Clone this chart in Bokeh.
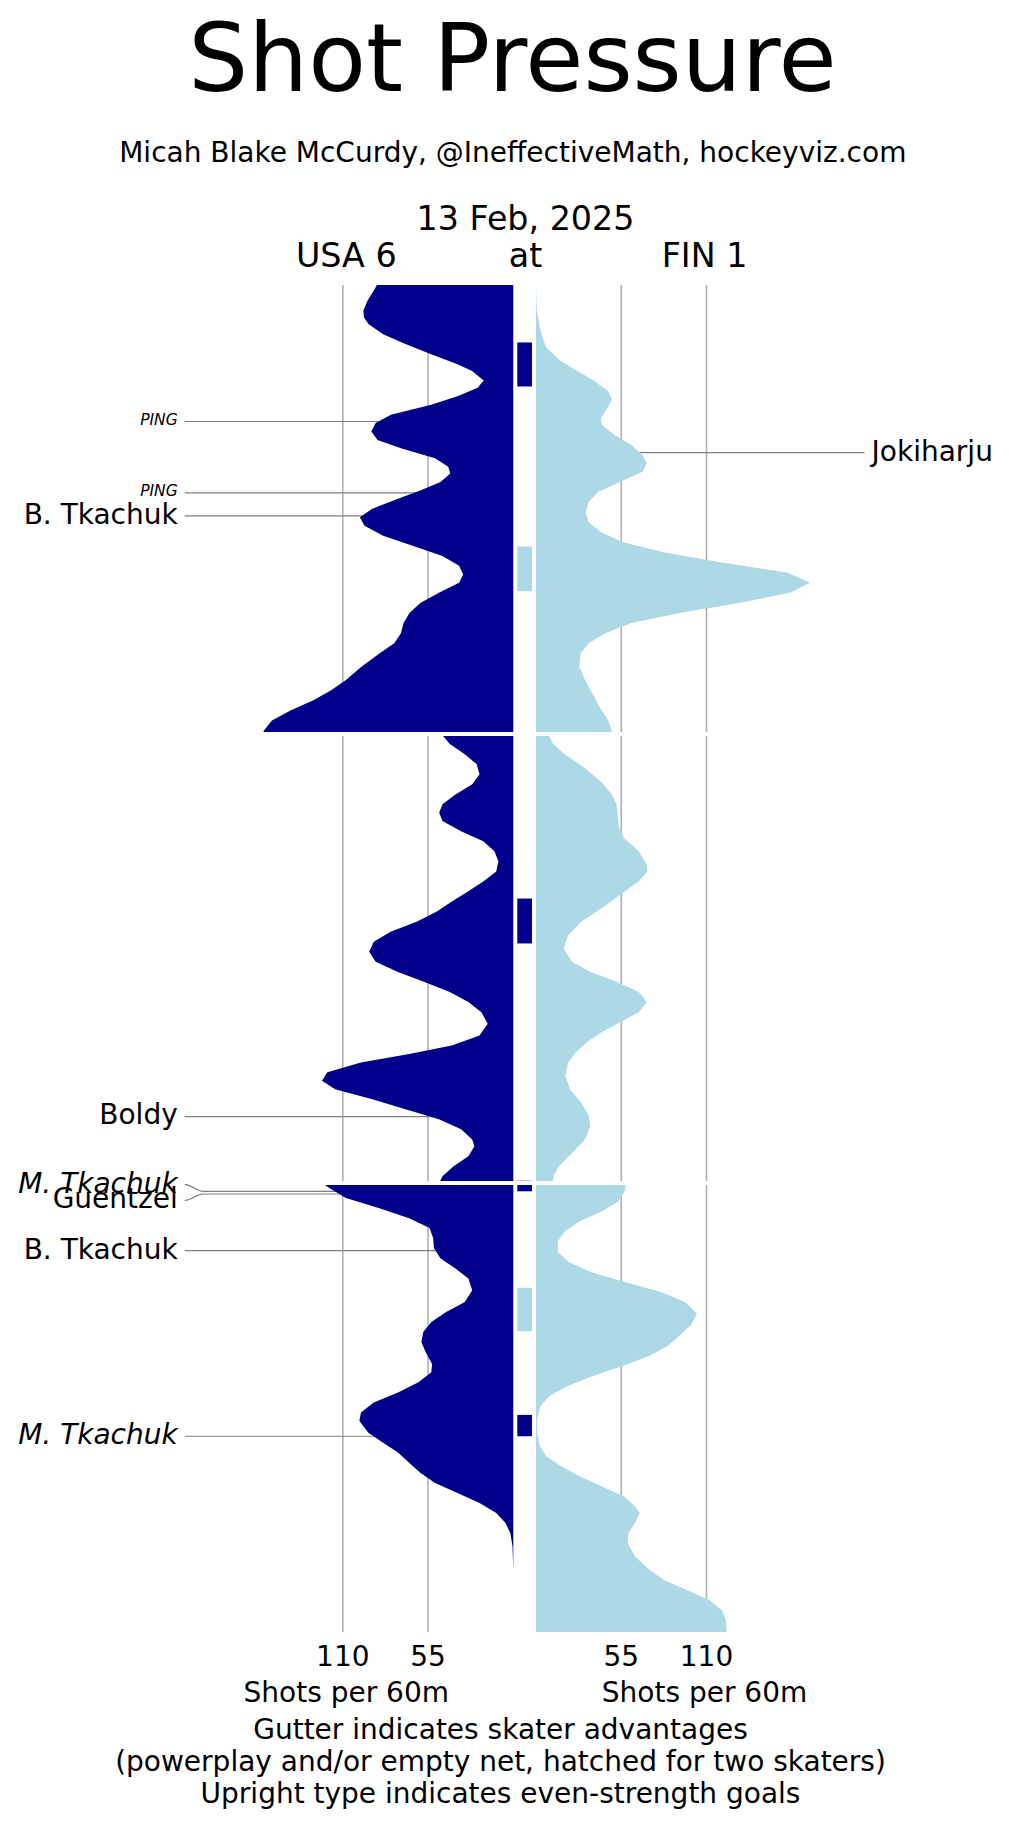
from bokeh.plotting import figure
from bokeh.models import Range1d
from bokeh.core.properties import value
from bokeh.embed import file_html
from bokeh.resources import INLINE

USA_COLOR = "#00008b"
FIN_COLOR = "#add8e6"
FONT = value("DejaVu Sans")

# ---------------- data (shots per 60 minutes vs game minute) ----------------
usa_p1_t = [0.00, 0.24, 0.69, 1.14, 1.44, 1.74, 2.19, 2.63, 3.08, 3.53, 3.83, 4.25, 4.58, 4.96, 5.33,
            5.78, 6.15, 6.53, 6.90, 7.28, 7.72, 8.10, 8.40, 8.77, 9.15, 9.52, 9.97, 10.34, 10.72,
            11.17, 11.62, 12.07, 12.51, 12.89, 13.26, 13.71, 14.16, 14.61, 15.06, 15.51, 15.96,
            16.41, 17.01, 17.60, 18.05, 18.50, 18.95, 19.40, 19.85, 20.00]
usa_p1_v = [88.0, 90, 94, 96.7, 96.4, 93.5, 84, 69.6, 53, 36, 26.6, 19.1, 23, 36, 53,
            79, 88.8, 91.6, 87.6, 72, 50.5, 42, 40.7, 47, 60, 74.4, 91, 99, 96,
            84, 65, 45.7, 35, 32.3, 35, 48, 60, 67, 70.8, 72.5, 76.8,
            86.4, 98, 108, 117.5, 129, 143.8, 155.7, 161, 161.5]

fin_p1_t = [0.00, 1.14, 2.04, 2.78, 3.38, 3.83, 4.28, 4.73, 5.10, 5.48, 5.93, 6.23, 6.68, 7.13,
            7.57, 7.95, 8.32, 8.77, 9.22, 9.67, 10.12, 10.57, 11.02, 11.47, 11.92, 12.37, 12.81,
            13.26, 13.71, 14.16, 14.61, 15.06, 15.51, 15.96, 16.41, 17.01, 17.60, 18.20, 18.80,
            19.40, 20.00]
fin_p1_v = [0, 0.5, 2.9, 6.5, 16, 26.8, 37.6, 46.7, 49, 46, 42, 42.3, 50.7, 61.5,
            68.7, 71.5, 68.7, 54.3, 40, 34, 32, 34, 42.3, 56.7, 83, 121, 162,
            176.8, 164, 131, 92.6, 61.5, 44.7, 34, 28.7, 28, 31.6, 36.4, 41,
            46.7, 49.5]

usa_p2_t = [20.00, 20.45, 20.90, 21.34, 21.79, 22.24, 22.69, 23.13, 23.51, 23.88, 24.33, 24.78,
            25.22, 25.67, 26.12, 26.57, 27.01, 27.46, 27.91, 28.36, 28.81, 29.25, 29.70, 30.15,
            30.60, 31.04, 31.49, 31.94, 32.39, 32.91, 33.43, 33.88, 34.25, 34.63, 35.07, 35.45,
            35.82, 36.27, 36.72, 37.16, 37.61, 38.06, 38.36, 38.81, 39.25, 39.70, 40.00]
usa_p2_v = [46.4, 41, 31.3, 23.7, 21.8, 26.5, 37.3, 45.7, 47.8, 45.7, 33.7, 19.4,
            12.2, 9.6, 11, 19.4, 29, 39.7, 49.3, 62.4, 79.2, 90, 93, 88.8,
            74.4, 57.7, 41, 29, 20.6, 16.5, 21.8, 39.7, 67.2, 98.3, 120, 123.4,
            115, 91, 69.6, 48, 33.7, 26.5, 25.1, 29, 38.5, 45.7, 47.8]

fin_p2_t = [20.00, 20.45, 20.90, 21.34, 21.79, 22.24, 22.69, 23.13, 23.58, 24.18, 24.63, 25.22,
            25.82, 26.12, 26.57, 27.16, 27.76, 28.36, 28.96, 29.55, 30.15, 30.60, 31.04, 31.49,
            31.94, 32.39, 32.84, 33.28, 33.73, 34.18, 34.63, 35.22, 35.82, 36.42, 37.01, 37.46,
            38.06, 38.66, 39.25, 39.70, 40.00]
fin_p2_v = [7.7, 11.2, 18.4, 28, 36.4, 43.5, 49, 52, 52.6, 53.6, 56.7, 66.3,
            71.5, 71.8, 66.3, 54.3, 42.3, 29.2, 20.8, 17.9, 23.2, 35.2, 52, 66.3,
            71.5, 66.3, 54.3, 42.3, 32.8, 25.6, 20.8, 18.9, 22, 29.2, 34, 35,
            31.6, 23.2, 14.8, 11.2, 10.8]

usa_p3_t = [40.00, 40.22, 40.67, 41.12, 41.57, 42.01, 42.46, 42.91, 43.36, 43.81, 44.25, 44.78,
            45.30, 45.75, 46.19, 46.64, 47.09, 47.54, 48.06, 48.43, 48.88, 49.33, 49.78, 50.22,
            50.60, 51.12, 51.57, 52.01, 52.46, 52.91, 53.36, 53.81, 54.25, 54.70, 55.15, 55.60,
            56.19, 57.24, 60.00]
usa_p3_v = [123.4, 118.7, 108, 86.4, 67.2, 54, 51.7, 51.2, 46.9, 37.3, 29, 26.5,
            31.3, 43.3, 52.9, 58.1, 59.3, 56.5, 52.4, 52.9, 61.2, 74.4, 90, 98.3,
            99.3, 93.5, 84, 74.4, 67.2, 60, 50.5, 36, 21.8, 11, 5, 1.9,
            0.5, 0, 0]

fin_p3_t = [40.00, 40.37, 40.82, 41.27, 41.72, 42.16, 42.61, 43.06, 43.51, 43.96, 44.40, 44.85,
            45.30, 45.82, 46.34, 46.79, 47.24, 47.69, 48.13, 48.58, 49.03, 49.48, 49.93, 50.52,
            51.12, 51.72, 52.16, 52.61, 53.06, 53.51, 53.96, 54.40, 54.70, 55.15, 55.60, 56.04,
            56.64, 57.24, 57.69, 58.13, 58.58, 59.03, 59.48, 60.00]
fin_p3_v = [57.9, 57.2, 53.1, 42.3, 28, 18.4, 14.1, 14.1, 20.8, 35.2, 56.7, 80.6,
            96.2, 103.8, 99.8, 92.6, 85.4, 73.4, 56.7, 37.6, 20.8, 8.9, 2.9, 0.7,
            0.7, 2.4, 6.5, 16, 28, 42.3, 56.7, 63.9, 67, 63.9, 59.6, 59.1,
            63.9, 73.4, 83, 97.4, 111.7, 120, 122.5, 123]

# skater-advantage (gutter) intervals
pp_team = ["USA", "FIN", "USA", "USA", "FIN", "USA"]
pp_start = [2.56, 11.65, 27.33, 39.90, 44.67, 50.33]
pp_end = [4.52, 13.64, 29.33, 40.37, 46.60, 51.28]

# goal / event labels
goal_team = ["USA", "USA", "USA", "FIN", "USA", "USA", "USA", "USA", "USA"]
goal_name = ["PING", "PING", "B. Tkachuk", "Jokiharju", "Boldy", "M. Tkachuk", "Guentzel",
             "B. Tkachuk", "M. Tkachuk"]
goal_time = [6.08, 9.26, 10.28, 7.47, 37.04, 40.37, 40.49, 43.01, 51.28]
goal_italic = [True, True, False, False, False, True, False, False, True]
goal_small = [True, True, False, False, False, False, False, False, False]
label_shift = [0, 0, 0, 0, 0, -0.30, 0.28, 0, 0]

ticks = [55, 110]
tick_labels = ["55", "110"]
period_breaks = [20, 40]

# ---------------- figure ----------------
W, H = 1005, 1825
p = figure(width=W, height=H, x_range=Range1d(0, W), y_range=Range1d(H, 0),
           output_backend="svg", toolbar_location=None, min_border=0,
           x_axis_location=None, y_axis_location=None)
p.outline_line_color = None
p.grid.visible = False
p.background_fill_color = "white"
p.border_fill_color = "white"

PX_PER_UNIT = 1.55
USA_ZERO, FIN_ZERO = 512.8, 535.5
T0_PX, PX_PER_MIN = 284.5, 22.45
p.extra_x_ranges = {
    "usa": Range1d(USA_ZERO / PX_PER_UNIT, (USA_ZERO - W) / PX_PER_UNIT),
    "fin": Range1d(-FIN_ZERO / PX_PER_UNIT, (W - FIN_ZERO) / PX_PER_UNIT),
}
p.extra_y_ranges = {"time": Range1d((H - T0_PX) / PX_PER_MIN, -T0_PX / PX_PER_MIN)}


def txt(x, y, s, size, align="center", style="normal", xr="default", yr="default"):
    p.text(x=[x], y=[y], text=[s], text_font=FONT, text_font_size=size,
           text_align=align, text_baseline="middle", text_font_style=style,
           text_color="black", x_range_name=xr, y_range_name=yr)


# grid lines
for team in ["usa", "fin"]:
    for t in ticks:
        p.line(x=[t, t], y=[0, 60], x_range_name=team, y_range_name="time",
               line_color="#b0b0b0", line_width=1.6)

# label connector lines (under the fills)
LINE_START = 212.0
for team, name, gt, sh in zip(goal_team, goal_name, goal_time, label_shift):
    rng = "usa" if team == "USA" else "fin"
    lt = gt + sh
    if sh == 0:
        xs = [LINE_START, 0]
        ys = [gt, gt]
    else:
        xs, ys = [], []
        n = 12
        for i in range(n + 1):
            u = i / n
            s = u * u * (3 - 2 * u)
            xs.append(LINE_START - 12 * u)
            ys.append(lt + (gt - lt) * s)
        xs.append(0)
        ys.append(gt)
    p.line(x=xs, y=ys, x_range_name=rng, y_range_name="time",
           line_color="#808080", line_width=1.2)


# shot-rate fills
def closed(ts, vs):
    return [0] + list(vs) + [0], [ts[0]] + list(ts) + [ts[-1]]


usa_polys = [closed(usa_p1_t, usa_p1_v), closed(usa_p2_t, usa_p2_v), closed(usa_p3_t, usa_p3_v)]
fin_polys = [closed(fin_p1_t, fin_p1_v), closed(fin_p2_t, fin_p2_v), closed(fin_p3_t, fin_p3_v)]
p.patches(xs=[a for a, b in usa_polys], ys=[b for a, b in usa_polys], x_range_name="usa",
          y_range_name="time", fill_color=USA_COLOR, line_color=None)
p.patches(xs=[a for a, b in fin_polys], ys=[b for a, b in fin_polys], x_range_name="fin",
          y_range_name="time", fill_color=FIN_COLOR, line_color=None)

# gutter bars
p.quad(left=[516.8] * len(pp_team), right=[531.5] * len(pp_team), top=pp_start, bottom=pp_end,
       y_range_name="time",
       fill_color=[USA_COLOR if t == "USA" else FIN_COLOR for t in pp_team], line_color=None)

# period separators
for b in period_breaks:
    p.line(x=[240, 830], y=[b, b], y_range_name="time", line_color="white", line_width=4)

# goal labels
for team, name, gt, it, sm, sh in zip(goal_team, goal_name, goal_time, goal_italic,
                                        goal_small, label_shift):
    size = "15.5px" if sm else "28px"
    style = "italic" if it else "normal"
    if team == "USA":
        txt(216.5, gt + sh - 0.07, name, size, align="right", style=style, xr="usa", yr="time")
    else:
        txt(216.5, gt + sh - 0.07, name, size, align="left", style=style, xr="fin", yr="time")

# header
txt(512, 57, "Shot Pressure", "94.5px")
txt(512.3, 151.7, "Micah Blake McCurdy, @IneffectiveMath, hockeyviz.com", "28px")
txt(525, 218, "13 Feb, 2025", "33.3px")
txt(345.8, 255, "USA 6", "33.3px")
txt(525, 255, "at", "33.3px")
txt(704, 255, "FIN 1", "33.3px")

# tick labels
for t, lab in zip(ticks, tick_labels):
    txt(t, 1655, lab, "28px", xr="usa")
    txt(t, 1655, lab, "28px", xr="fin")
txt(345.8, 1692.4, "Shots per 60m", "28px")
txt(704, 1692.4, "Shots per 60m", "28px")

# footer
txt(500, 1729.2, "Gutter indicates skater advantages", "28px")
txt(500, 1761.4, "(powerplay and/or empty net, hatched for two skaters)", "28px")
txt(500, 1793.2, "Upright type indicates even-strength goals", "28px")

open("out.html", "w").write(file_html(p, INLINE))
